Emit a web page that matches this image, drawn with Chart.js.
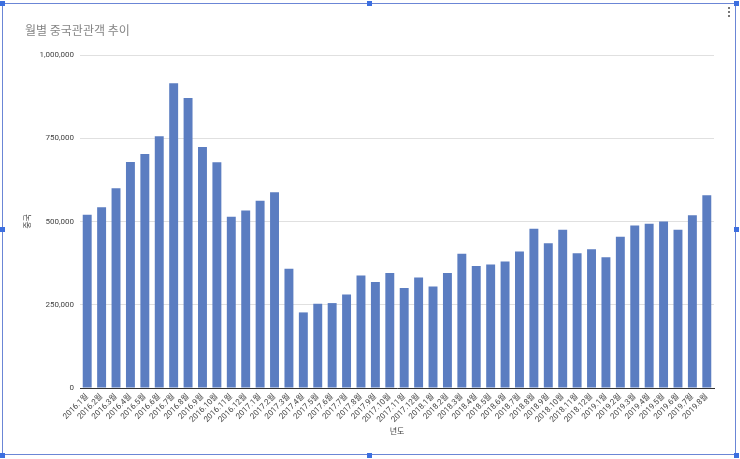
<!DOCTYPE html>
<html><head><meta charset="utf-8">
<script src="https://cdn.jsdelivr.net/npm/chart.js@4/dist/chart.umd.min.js"></script>
<style>
html,body{margin:0;padding:0;background:#fff;}
#wrap{position:relative;width:740px;height:459px;}
#frame{position:absolute;left:2px;top:3px;width:734px;height:452px;border:1px solid #6b86d6;box-sizing:border-box;pointer-events:none;}
.h{position:absolute;width:5px;height:5px;background:#3c6fe0;}
canvas{position:absolute;left:0;top:0;}
</style></head><body>
<div id="wrap">
<canvas id="c" width="740" height="459"></canvas>
<div id="frame"></div>
<div class="h" style="left:0;top:1px"></div>
<div class="h" style="left:367px;top:1px"></div>
<div class="h" style="left:734px;top:1px"></div>
<div class="h" style="left:0;top:227px"></div>
<div class="h" style="left:734px;top:227px"></div>
<div class="h" style="left:0;top:453px"></div>
<div class="h" style="left:367px;top:453px"></div>
<div class="h" style="left:734px;top:453px"></div>
</div>
<script>
const categories = [
 '2016.1월','2016.2월','2016.3월','2016.4월','2016.5월','2016.6월','2016.7월','2016.8월','2016.9월','2016.10월','2016.11월','2016.12월',
 '2017.1월','2017.2월','2017.3월','2017.4월','2017.5월','2017.6월','2017.7월','2017.8월','2017.9월','2017.10월','2017.11월','2017.12월',
 '2018.1월','2018.2월','2018.3월','2018.4월','2018.5월','2018.6월','2018.7월','2018.8월','2018.9월','2018.10월','2018.11월','2018.12월',
 '2019.1월','2019.2월','2019.3월','2019.4월','2019.5월','2019.6월','2019.7월','2019.8월'
];
const visitors = [
 520000,543000,600000,679000,703000,756000,915000,871000,724000,678000,514000,533000,
 562000,588000,358000,227000,253000,255000,281000,338000,318000,345000,300000,332000,
 305000,345000,403000,366000,371000,380000,410000,478000,435000,475000,405000,417000,
 393000,454000,488000,493000,500000,475000,519000,579000
];
const yTicks = [0,250000,500000,750000,1000000];
const titleText = '월별 중국관관객 추이';
const yTitle = '중국';
const xTitle = '년도';

const FONT = "Roboto, 'Noto Sans CJK KR', sans-serif";

const titlePlugin = {
  id:'customTitle',
  afterDraw(chart){
    const ctx = chart.ctx;
    ctx.save();
    ctx.font = "12px 'Noto Sans CJK KR', Roboto, sans-serif";
    ctx.fillStyle = '#858585';
    ctx.textBaseline = 'middle';
    ctx.fillText(titleText, 25, 30);
    ctx.fillStyle = '#777';
    for (let i=0;i<3;i++){ ctx.fillRect(728, 7+i*4, 2, 2); }
    ctx.restore();
  }
};

new Chart(document.getElementById('c'), {
  type:'bar',
  data:{ labels:categories, datasets:[{ data:visitors, backgroundColor:'#5b7dc1', borderWidth:0, categoryPercentage:1, barPercentage:0.62 }]},
  options:{
    responsive:false, animation:false,
    layout:{ padding:{ left:20, right:26, top:55, bottom:20 } },
    plugins:{ legend:{display:false}, tooltip:{enabled:false}, title:{display:false} },
    scales:{
      x:{
        grid:{ display:false, drawTicks:false },
        border:{ display:true, color:'#333', width:1 },
        ticks:{ autoSkip:false, maxRotation:45, minRotation:45, color:'#444', font:{ family:FONT, size:8 }, padding:4 },
        title:{ display:true, text:xTitle, color:'#444', font:{ family:"'Noto Sans CJK KR', sans-serif", size:8 }, padding:{top:0,bottom:3} },
        afterFit(s){ s.height = 459 - 388 - 20; }
      },
      y:{
        min:0, max:1000000,
        afterBuildTicks(s){ s.ticks = yTicks.map(v=>({value:v})); },
        grid:{ color:'#e0e0e0', drawTicks:false },
        border:{ display:false },
        ticks:{ color:'#444', font:{ family:FONT, size:8 }, padding:6, callback:v=>v.toLocaleString('en-US') },
        title:{ display:true, text:yTitle, color:'#444', font:{ family:"'Noto Sans CJK KR', sans-serif", size:8 }, padding:2 },
        afterFit(s){ s.width = 60; }
      }
    }
  },
  plugins:[titlePlugin]
});
</script>
</body></html>
